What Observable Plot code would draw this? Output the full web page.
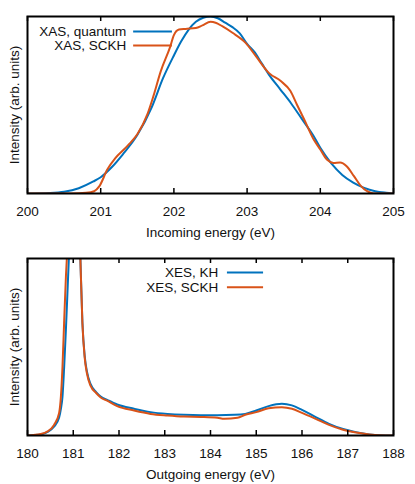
<!DOCTYPE html>
<html>
<head>
<meta charset="utf-8">
<script src="https://cdn.jsdelivr.net/npm/d3@7"></script>
<script src="https://cdn.jsdelivr.net/npm/@observablehq/plot@0.6"></script>
<style>
  html, body { margin: 0; padding: 0; background: #fff; }
  #chart { width: 415px; }
  #chart svg { display: block; }
</style>
</head>
<body>
<div id="chart"></div>
<script>
// ---------- Top panel: XAS ----------
const xasQuantumE = [200.0, 200.3, 200.5, 200.7, 200.9, 201.0, 201.15, 201.3, 201.5, 201.7, 201.85, 202.0, 202.1, 202.2, 202.3, 202.4, 202.5, 202.6, 202.7, 202.8, 202.9, 203.0, 203.1, 203.2, 203.3, 203.45, 203.6, 203.75, 203.9, 204.0, 204.15, 204.3, 204.45, 204.6, 204.75, 204.9, 205.0];
const xasQuantumI = [0.0, 0.003, 0.01, 0.03, 0.068, 0.092, 0.148, 0.22, 0.33, 0.49, 0.65, 0.78, 0.86, 0.925, 0.97, 0.993, 1.0, 0.99, 0.965, 0.94, 0.905, 0.845, 0.80, 0.735, 0.67, 0.59, 0.51, 0.42, 0.33, 0.258, 0.17, 0.105, 0.062, 0.032, 0.013, 0.004, 0.0];
const xasSckhE = [200.0, 200.6, 200.8, 200.91, 200.98, 201.09, 201.2, 201.32, 201.39, 201.5, 201.64, 201.72, 201.82, 201.95, 202.0, 202.07, 202.16, 202.3, 202.39, 202.5, 202.57, 202.66, 202.8, 202.98, 203.12, 203.3, 203.46, 203.59, 203.68, 203.78, 203.91, 204.0, 204.09, 204.18, 204.27, 204.36, 204.46, 204.55, 204.64, 204.73, 205.0];
const xasSckhI = [0.0, 0.0, 0.004, 0.013, 0.04, 0.135, 0.2, 0.25, 0.28, 0.335, 0.45, 0.55, 0.69, 0.83, 0.895, 0.926, 0.93, 0.935, 0.95, 0.97, 0.965, 0.945, 0.908, 0.851, 0.776, 0.68, 0.635, 0.58, 0.503, 0.418, 0.305, 0.249, 0.192, 0.173, 0.175, 0.154, 0.098, 0.045, 0.013, 0.0, 0.0];
const xasTicks = [200, 201, 202, 203, 204, 205];
const xasLabels = ["XAS, quantum", "XAS, SCKH"];

// ---------- Bottom panel: XES ----------
const xesKhE = [180.0, 180.29, 180.44, 180.58, 180.69, 180.73, 180.765, 180.8, 180.84, 180.88, 180.92, 181.0, 181.08, 181.15, 181.2, 181.25, 181.3, 181.38, 181.5, 181.6, 181.75, 181.96, 182.33, 182.69, 183.06, 183.42, 183.79, 184.15, 184.52, 184.76, 185.0, 185.27, 185.56, 185.78, 186.0, 186.3, 186.59, 186.88, 187.18, 187.47, 187.83, 188.0];
const xesKhI = [0.0, 0.006, 0.02, 0.05, 0.10, 0.15, 0.22, 0.38, 0.60, 0.85, 1.1, 1.6, 1.6, 1.05, 0.64, 0.45, 0.36, 0.29, 0.245, 0.22, 0.20, 0.175, 0.151, 0.132, 0.122, 0.117, 0.115, 0.115, 0.117, 0.122, 0.141, 0.166, 0.179, 0.17, 0.145, 0.104, 0.066, 0.038, 0.019, 0.006, 0.0, 0.0];
const xesSckhE = [180.0, 180.29, 180.44, 180.58, 180.69, 180.73, 180.765, 180.8, 180.84, 180.86, 180.92, 181.0, 181.08, 181.15, 181.2, 181.25, 181.3, 181.38, 181.5, 181.6, 181.75, 181.96, 182.33, 182.69, 183.06, 183.42, 183.79, 184.15, 184.3, 184.59, 184.76, 185.0, 185.27, 185.56, 185.78, 186.0, 186.3, 186.59, 186.88, 187.18, 187.47, 187.83, 188.0];
const xesSckhI = [0.0, 0.008, 0.023, 0.06, 0.126, 0.22, 0.39, 0.635, 0.9, 1.0, 1.4, 1.6, 1.6, 1.05, 0.635, 0.44, 0.35, 0.28, 0.24, 0.215, 0.195, 0.166, 0.141, 0.122, 0.113, 0.107, 0.105, 0.10, 0.094, 0.10, 0.117, 0.132, 0.154, 0.16, 0.151, 0.128, 0.094, 0.06, 0.034, 0.017, 0.006, 0.0, 0.0];
const xesTicks = [180, 181, 182, 183, 184, 185, 186, 187, 188];
const xesLabels = ["XES, KH", "XES, SCKH"];

const yLabel = "Intensity (arb. units)";
const BLUE = "#0072BD";
const ORANGE = "#D95319";
const FONT = "'Liberation Sans', Arial, Helvetica, sans-serif";
const FS = 13.5;

function toRows(E, I) { return E.map((e, i) => ({e, v: I[i]})); }

function panel({domain, ticks, s1, s2, labels, xLabel, legend}) {
  const W = 415, H = 242, mT = 16, mB = 49, mL = 27, mR = 22;
  const innerH = H - mT - mB;
  return Plot.plot({
    width: W, height: H,
    marginTop: mT, marginBottom: mB, marginLeft: mL, marginRight: mR,
    style: {fontFamily: FONT, fontSize: FS + "px", color: "#000", background: "#fff"},
    x: {domain, ticks},
    y: {domain: [0, 1], axis: null},
    marks: [
      Plot.line(s1, {x: "e", y: "v", stroke: BLUE, strokeWidth: 2, curve: "monotone-x", clip: true}),
      Plot.line(s2, {x: "e", y: "v", stroke: ORANGE, strokeWidth: 2, curve: "monotone-x", clip: true}),
      Plot.frame({stroke: "#000", strokeWidth: 2}),
      Plot.tickX(ticks, {x: d => d, stroke: "#000", strokeWidth: 1.5, insetTop: innerH - 5}),
      Plot.tickX(ticks, {x: d => d, stroke: "#000", strokeWidth: 1.5, insetBottom: innerH - 5}),
      Plot.axisX({ticks, tickSize: 0, tickPadding: 13, tickFormat: d3.format("d"), label: null, fontSize: FS, fill: "#111"}),
      Plot.text([xLabel], {frameAnchor: "bottom", dy: 39, text: d => d, lineAnchor: "middle", fontSize: FS, fill: "#111"}),
      Plot.text([yLabel], {frameAnchor: "left", dx: -13, text: d => d, rotate: -90, textAnchor: "middle", lineAnchor: "middle", fontSize: FS, fill: "#111"}),
      // legend
      Plot.text(labels, {x: legend.textX, y: (d, i) => legend.ys[i], text: d => d, textAnchor: "end", lineAnchor: "middle", fontSize: FS, fill: "#111"}),
      Plot.ruleY(labels, {y: (d, i) => legend.ys[i], x1: legend.x1, x2: legend.x2, stroke: (d, i) => [BLUE, ORANGE][i], strokeWidth: 2})
    ]
  });
}

const chart = document.getElementById("chart");
chart.append(panel({
  domain: [200, 205], ticks: xasTicks,
  s1: toRows(xasQuantumE, xasQuantumI), s2: toRows(xasSckhE, xasSckhI),
  labels: xasLabels, xLabel: "Incoming energy (eV)",
  legend: {textX: 201.35, x1: 201.45, x2: 201.98, ys: [0.915, 0.836]}
}));
chart.append(panel({
  domain: [180, 188], ticks: xesTicks,
  s1: toRows(xesKhE, xesKhI), s2: toRows(xesSckhE, xesSckhI),
  labels: xesLabels, xLabel: "Outgoing energy (eV)",
  legend: {textX: 184.17, x1: 184.37, x2: 185.16, ys: [0.921, 0.838]}
}));
</script>
</body>
</html>
